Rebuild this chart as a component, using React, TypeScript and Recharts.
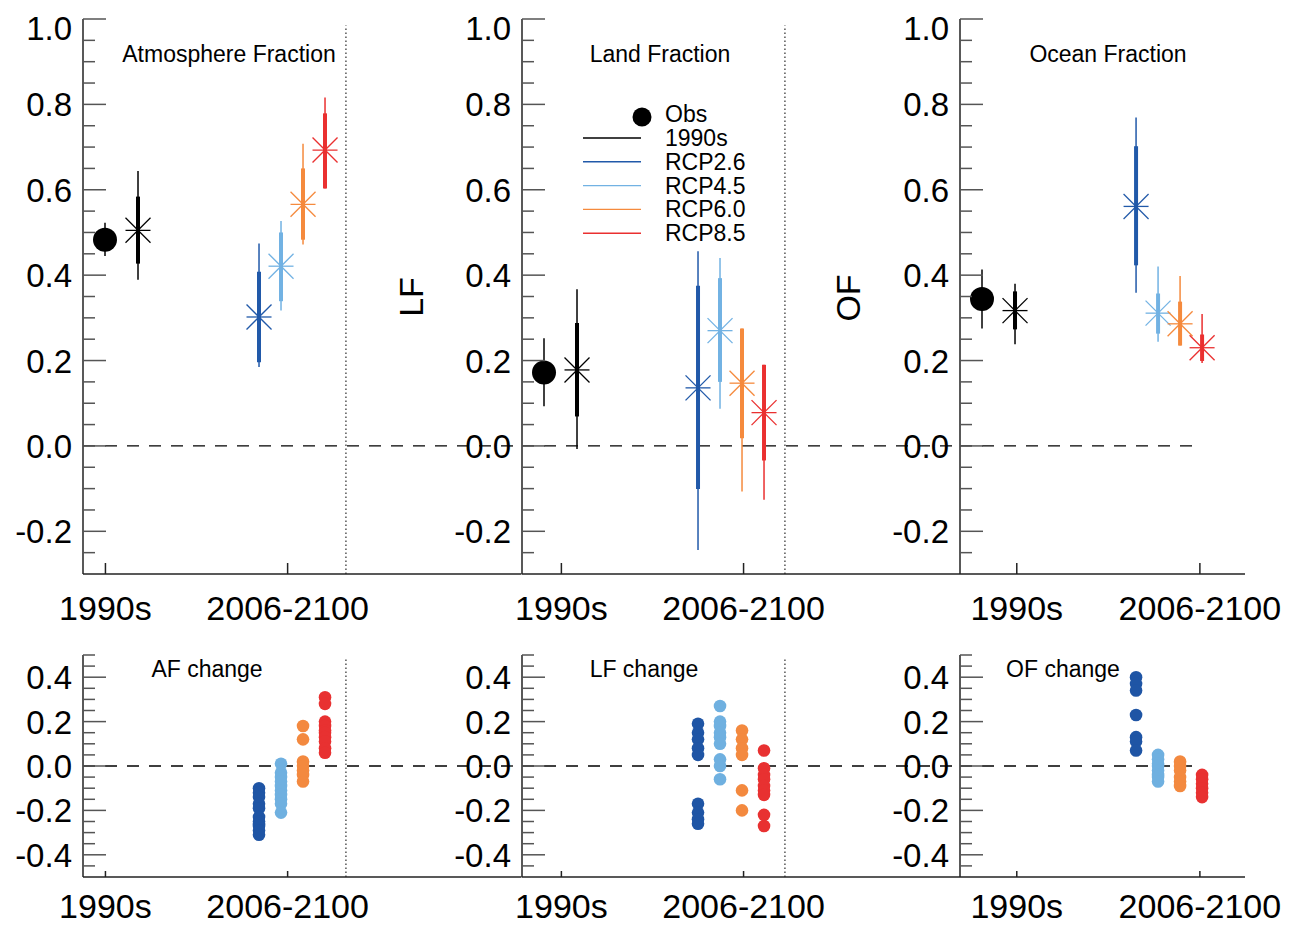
import React from "react";
import { ScatterChart, Scatter, XAxis, YAxis, ErrorBar, ReferenceLine } from "recharts";

const FONT = "'Liberation Sans', Arial, Helvetica, sans-serif";

// ---------- categories ----------
const SCENARIOS = ["Obs", "1990s", "RCP2.6", "RCP4.5", "RCP6.0", "RCP8.5"];
const SLOT_X = [1, 2.5, 8, 9, 10, 11];
const SCENARIO_COLORS = ["#000000", "#000000", "#2159a9", "#72b2e3", "#f58a3d", "#ea3030"];
const RCP_NAMES = ["RCP2.6", "RCP4.5", "RCP6.0", "RCP8.5"];
const RCP_SLOT_X = [8, 9, 10, 11];
const RCP_COLORS = ["#1f55a5", "#6fb0e0", "#f3893f", "#e83131"];

// ---------- tick labels ----------
const X_TICK_LABELS = ["1990s", "2006-2100"];
const X_TICKS_AF = [1.02, 9.3];
const X_TICKS_LF = [1.79, 10.07];
const X_TICKS_OF = [2.58, 10.9];
const DIVIDER_X = 11.95;
const TOP_Y_TICKS = [-0.25, -0.2, -0.15, -0.1, -0.05, 0, 0.05, 0.1, 0.15, 0.2, 0.25, 0.3, 0.35, 0.4, 0.45, 0.5, 0.55, 0.6, 0.65, 0.7, 0.75, 0.8, 0.85, 0.9, 0.95, 1.0];
const BOTTOM_Y_TICKS = [-0.45, -0.4, -0.35, -0.3, -0.25, -0.2, -0.15, -0.1, -0.05, 0, 0.05, 0.1, 0.15, 0.2, 0.25, 0.3, 0.35, 0.4, 0.45, 0.5];

// ---------- Atmosphere fraction ----------
const AF_MID = [0.483, 0.505, 0.302, 0.421, 0.566, 0.693];
const AF_THIN_LO = [0.445, 0.389, 0.185, 0.317, 0.472, 0.603];
const AF_THIN_HI = [0.523, 0.644, 0.474, 0.527, 0.708, 0.816];
const AF_THICK_LO = [null, 0.427, 0.196, 0.339, 0.483, 0.603];
const AF_THICK_HI = [null, 0.584, 0.408, 0.5, 0.65, 0.779];

// ---------- Land fraction ----------
const LF_MID = [0.172, 0.178, 0.136, 0.27, 0.147, 0.078];
const LF_THIN_LO = [0.093, -0.007, -0.244, 0.087, -0.107, -0.126];
const LF_THIN_HI = [0.252, 0.367, 0.456, 0.44, 0.275, 0.19];
const LF_THICK_LO = [null, 0.069, -0.101, 0.15, 0.018, -0.034];
const LF_THICK_HI = [null, 0.288, 0.375, 0.393, 0.275, 0.19];

// ---------- Ocean fraction ----------
const OF_MID = [0.344, 0.317, 0.561, 0.311, 0.286, 0.23];
const OF_THIN_LO = [0.275, 0.238, 0.359, 0.244, 0.235, 0.194];
const OF_THIN_HI = [0.413, 0.38, 0.769, 0.42, 0.398, 0.309];
const OF_THICK_LO = [null, 0.273, 0.423, 0.263, 0.235, 0.199];
const OF_THICK_HI = [null, 0.362, 0.702, 0.357, 0.338, 0.261];

// ---------- changes ----------
const AF_CHANGE_26 = [-0.1, -0.12, -0.14, -0.17, -0.19, -0.23, -0.25, -0.26, -0.27, -0.29, -0.31];
const AF_CHANGE_45 = [0.01, -0.03, -0.05, -0.07, -0.09, -0.11, -0.13, -0.15, -0.17, -0.21];
const AF_CHANGE_60 = [0.18, 0.12, 0.02, 0.0, -0.02, -0.04, -0.07];
const AF_CHANGE_85 = [0.31, 0.28, 0.2, 0.18, 0.16, 0.15, 0.13, 0.11, 0.08, 0.06];

const LF_CHANGE_26 = [0.19, 0.15, 0.12, 0.08, 0.05, -0.17, -0.21, -0.24, -0.26];
const LF_CHANGE_45 = [0.27, 0.2, 0.18, 0.15, 0.13, 0.1, 0.03, 0.0, -0.06];
const LF_CHANGE_60 = [0.16, 0.12, 0.08, 0.05, -0.11, -0.2];
const LF_CHANGE_85 = [0.07, -0.01, -0.04, -0.06, -0.09, -0.11, -0.13, -0.22, -0.27];

const OF_CHANGE_26 = [0.4, 0.37, 0.34, 0.23, 0.13, 0.11, 0.07];
const OF_CHANGE_45 = [0.05, 0.03, 0.01, 0.0, -0.02, -0.04, -0.05, -0.07];
const OF_CHANGE_60 = [0.02, 0.0, -0.02, -0.05, -0.07, -0.09];
const OF_CHANGE_85 = [-0.04, -0.06, -0.08, -0.1, -0.12, -0.14];

// ---------- layout ----------
const Y_AXIS_W = 83;
const AXIS_COLOR = "#222";
const TICK_COLOR = "#555";

const TOP_ROW = { top: 0, plotTop: 19, plotH: 555, xAxisH: 60, domain: [-0.3, 1.0], yTicks: TOP_Y_TICKS, xTickLen: 11, dividerTop: 0.985, labelDy: 46 };
const BOTTOM_ROW = { top: 640, plotTop: 15, plotH: 222, xAxisH: 49, domain: [-0.5, 0.5], yTicks: BOTTOM_Y_TICKS, xTickLen: 6, dividerTop: 0.48, labelDy: 41 };

const COLS = [
  { axisX: 83, plotW: 438.5, xMax: 19.93, xTicks: X_TICKS_AF, zeroEnd: 19.93, divider: true, rightPad: 0 },
  { axisX: 521.5, plotW: 438.5, xMax: 19.93, xTicks: X_TICKS_LF, zeroEnd: 19.93, divider: true, rightPad: 0 },
  { axisX: 960, plotW: 285, xMax: 12.95, xTicks: X_TICKS_OF, zeroEnd: 10.9, divider: false, rightPad: 48 },
];

function YTick(props: any) {
  const { x, y, payload, max } = props;
  const v = payload.value;
  const major = Math.abs(v * 5 - Math.round(v * 5)) < 1e-6;
  const isMax = Math.abs(v - max) < 1e-6;
  return (
    <g>
      <line x1={x} x2={x + (major ? 23 : 12)} y1={y} y2={y} stroke={TICK_COLOR} strokeWidth={1.5} />
      {major && (
        <text x={x - 11} y={y + (isMax ? 21 : 12)} textAnchor="end" fontSize={33} fontFamily={FONT} fill="#000">
          {Math.abs(v) < 1e-9 ? "0.0" : v.toFixed(1)}
        </text>
      )}
    </g>
  );
}

function XTick(props: any) {
  const { x, y, index, len, dy } = props;
  return (
    <g>
      <line x1={x} x2={x} y1={y} y2={y - len} stroke={AXIS_COLOR} strokeWidth={1.5} />
      <text x={x} y={y + dy} textAnchor="middle" fontSize={34} fontFamily={FONT} fill="#000">
        {X_TICK_LABELS[index]}
      </text>
    </g>
  );
}

function asteriskShape(color: string) {
  return (p: any) => {
    const { cx, cy } = p;
    if (cx == null || cy == null) return <g />;
    const r = 12.5;
    return (
      <g stroke={color} strokeWidth={1.3}>
        <line x1={cx - r} y1={cy} x2={cx + r} y2={cy} />
        <line x1={cx} y1={cy - r} x2={cx} y2={cy + r} />
        <line x1={cx - r} y1={cy - r} x2={cx + r} y2={cy + r} />
        <line x1={cx - r} y1={cy + r} x2={cx + r} y2={cy - r} />
      </g>
    );
  };
}

const obsShape = (p: any) => (p.cx == null ? <g /> : <circle cx={p.cx} cy={p.cy} r={12} fill="#000" />);

function dotShape(color: string) {
  return (p: any) => (p.cx == null ? <g /> : <circle cx={p.cx} cy={p.cy} r={6.3} fill={color} />);
}

function Frame({ row, col, children }: any) {
  const width = Y_AXIS_W + col.plotW + col.rightPad;
  const height = row.plotTop + row.plotH + row.xAxisH;
  return (
    <div style={{ position: "absolute", left: col.axisX - Y_AXIS_W, top: row.top }}>
      <ScatterChart width={width} height={height} margin={{ top: row.plotTop, right: col.rightPad, bottom: 0, left: 0 }}>
        <XAxis
          type="number"
          dataKey="x"
          domain={[0, col.xMax]}
          ticks={col.xTicks}
          interval={0}
          allowDataOverflow
          tickSize={0}
          tickMargin={0}
          tickLine={false}
          height={row.xAxisH}
          axisLine={{ stroke: AXIS_COLOR, strokeWidth: 1.5 }}
          tick={(p: any) => <XTick {...p} len={row.xTickLen} dy={row.labelDy} />}
        />
        <YAxis
          type="number"
          dataKey="y"
          domain={row.domain}
          ticks={row.yTicks}
          interval={0}
          allowDataOverflow
          width={Y_AXIS_W}
          tickSize={0}
          tickMargin={0}
          tickLine={false}
          axisLine={{ stroke: AXIS_COLOR, strokeWidth: 1.5 }}
          tick={(p: any) => <YTick {...p} max={row.domain[1]} />}
        />
        <ReferenceLine
          segment={[{ x: 0, y: 0 }, { x: col.zeroEnd, y: 0 }]}
          stroke="#000"
          strokeDasharray="12 10"
          strokeWidth={1.3}
        />
        {col.divider && (
          <ReferenceLine
            segment={[{ x: DIVIDER_X, y: row.domain[0] }, { x: DIVIDER_X, y: row.dividerTop }]}
            stroke="#555"
            strokeDasharray="1.5 2.5"
            strokeWidth={1.5}
          />
        )}
        {children}
      </ScatterChart>
    </div>
  );
}

function fractionSeries(mid: number[], thinLo: number[], thinHi: number[], thickLo: (number | null)[], thickHi: (number | null)[]) {
  return SCENARIOS.map((name, i) => {
    const color = SCENARIO_COLORS[i];
    const lo = thickLo[i];
    const hi = thickHi[i];
    const data = [
      {
        x: SLOT_X[i],
        y: mid[i],
        thin: [mid[i] - thinLo[i], thinHi[i] - mid[i]],
        thick: lo == null || hi == null ? [0, 0] : [mid[i] - lo, hi - mid[i]],
      },
    ];
    return (
      <Scatter key={name} name={name} data={data} isAnimationActive={false} shape={i === 0 ? obsShape : asteriskShape(color)}>
        <ErrorBar dataKey="thin" direction="y" width={0} stroke={color} strokeWidth={1.5} isAnimationActive={false} />
        {lo != null && <ErrorBar dataKey="thick" direction="y" width={0} stroke={color} strokeWidth={4} isAnimationActive={false} />}
      </Scatter>
    );
  });
}

function changeSeries(groups: number[][]) {
  return groups.map((vals, k) => (
    <Scatter
      key={RCP_NAMES[k]}
      name={RCP_NAMES[k]}
      data={vals.map((v) => ({ x: RCP_SLOT_X[k], y: v }))}
      isAnimationActive={false}
      shape={dotShape(RCP_COLORS[k])}
    />
  ));
}

const LEGEND_ITEMS = ["1990s", "RCP2.6", "RCP4.5", "RCP6.0", "RCP8.5"];
const LEGEND_COLORS = ["#000000", "#2159a9", "#72b2e3", "#f58a3d", "#ea3030"];

function Overlay() {
  const t = { fontFamily: FONT, fill: "#000" } as any;
  return (
    <svg width={1293} height={926} style={{ position: "absolute", left: 0, top: 0, pointerEvents: "none" }}>
      <text {...t} x={229} y={62} fontSize={23} textAnchor="middle">Atmosphere Fraction</text>
      <text {...t} x={660} y={62} fontSize={23} textAnchor="middle">Land Fraction</text>
      <text {...t} x={1108} y={62} fontSize={23} textAnchor="middle">Ocean Fraction</text>
      <text {...t} x={207} y={677} fontSize={23} textAnchor="middle">AF change</text>
      <text {...t} x={644} y={677} fontSize={23} textAnchor="middle">LF change</text>
      <text {...t} x={1063} y={677} fontSize={23} textAnchor="middle">OF change</text>
      <text {...t} transform="translate(411,297) rotate(-90)" y={12} fontSize={34} textAnchor="middle">LF</text>
      <text {...t} transform="translate(848,298) rotate(-90)" y={12} fontSize={34} textAnchor="middle">OF</text>
      <circle cx={642} cy={117} r={9.5} fill="#000" />
      <text {...t} x={665} y={122} fontSize={23}>Obs</text>
      {LEGEND_ITEMS.map((name, i) => {
        const y = 138 + i * 23.8;
        return (
          <g key={name}>
            <line x1={583} x2={641} y1={y} y2={y} stroke={LEGEND_COLORS[i]} strokeWidth={1.4} />
            <text {...t} x={665} y={y + 8} fontSize={23}>{name}</text>
          </g>
        );
      })}
    </svg>
  );
}

export default function App() {
  return (
    <div style={{ position: "absolute", left: 0, top: 0, width: 1293, height: 926, background: "#fff", overflow: "hidden" }}>
      <Frame row={TOP_ROW} col={COLS[0]}>{fractionSeries(AF_MID, AF_THIN_LO, AF_THIN_HI, AF_THICK_LO, AF_THICK_HI)}</Frame>
      <Frame row={TOP_ROW} col={COLS[1]}>{fractionSeries(LF_MID, LF_THIN_LO, LF_THIN_HI, LF_THICK_LO, LF_THICK_HI)}</Frame>
      <Frame row={TOP_ROW} col={COLS[2]}>{fractionSeries(OF_MID, OF_THIN_LO, OF_THIN_HI, OF_THICK_LO, OF_THICK_HI)}</Frame>
      <Frame row={BOTTOM_ROW} col={COLS[0]}>{changeSeries([AF_CHANGE_26, AF_CHANGE_45, AF_CHANGE_60, AF_CHANGE_85])}</Frame>
      <Frame row={BOTTOM_ROW} col={COLS[1]}>{changeSeries([LF_CHANGE_26, LF_CHANGE_45, LF_CHANGE_60, LF_CHANGE_85])}</Frame>
      <Frame row={BOTTOM_ROW} col={COLS[2]}>{changeSeries([OF_CHANGE_26, OF_CHANGE_45, OF_CHANGE_60, OF_CHANGE_85])}</Frame>
      <Overlay />
    </div>
  );
}
